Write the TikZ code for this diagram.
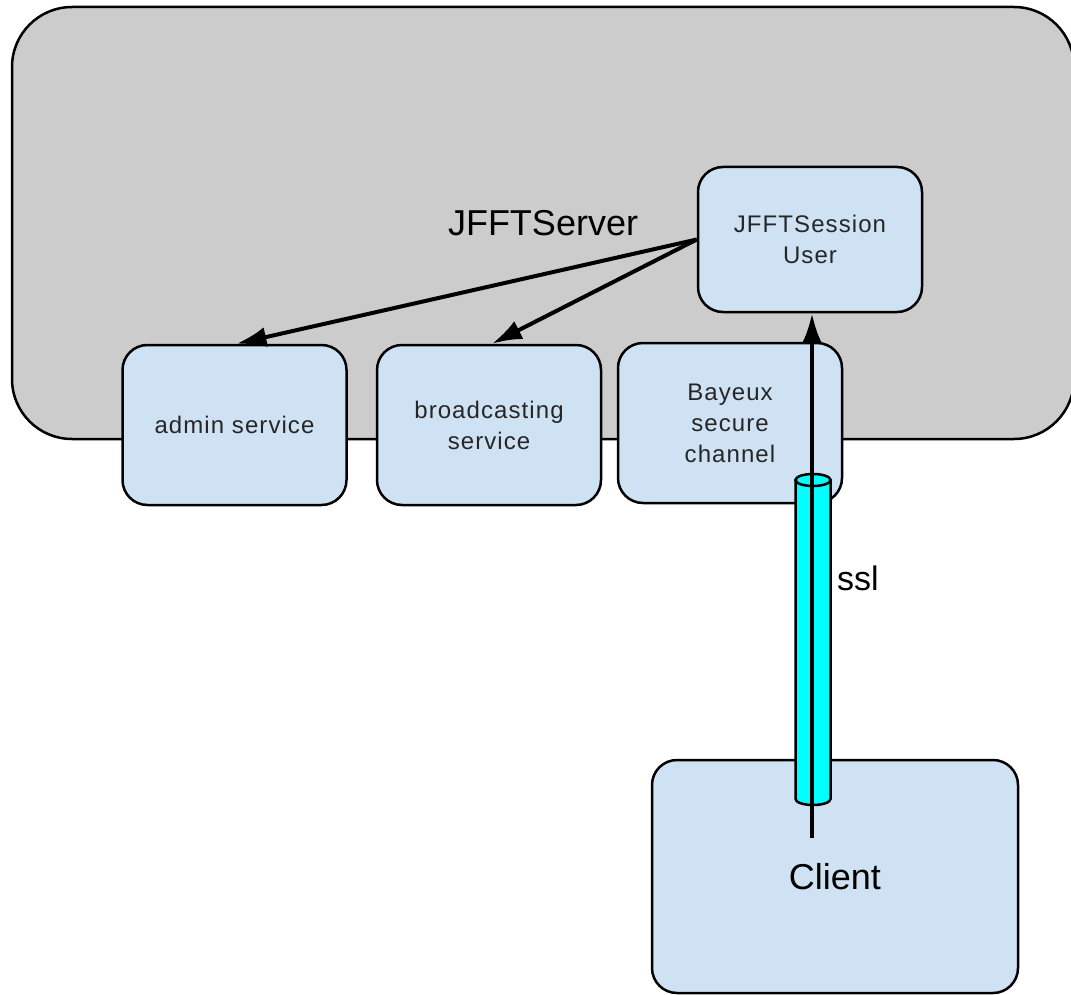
\documentclass[tikz,border=0pt]{standalone}
\usepackage{fontspec}
\setmainfont{Liberation Sans}
\usetikzlibrary{arrows.meta,calc}
\definecolor{serverfill}{HTML}{CCCCCC}
\definecolor{boxblue}{HTML}{CFE2F3}
\definecolor{pipecyan}{HTML}{00FFFF}
\definecolor{smalltext}{HTML}{262626}
\tikzset{
  server/.style={draw=black, line width=2.5pt, fill=serverfill, rounded corners=60pt,
    minimum width=1062pt, minimum height=432pt, inner sep=0pt,
    font=\fontsize{36}{40}\selectfont},
  svcbox/.style={draw=black, line width=2.5pt, fill=boxblue, rounded corners=25pt,
    minimum width=224pt, minimum height=160pt, inner sep=0pt, align=center,
    text=smalltext, font=\fontsize{24}{31}\selectfont\addfontfeature{LetterSpace=4.5}},
  bigbox/.style={svcbox, text=black, font=\fontsize{36}{40}\selectfont},
  connector/.style={draw=black, line width=4pt, -{Latex[length=30pt,width=20pt]}},
  pipe/.style={draw=black, line width=2.5pt, fill=pipecyan},
  pipelabel/.style={font=\fontsize{34}{40}\selectfont, inner sep=0pt}
}
\begin{document}
\begin{tikzpicture}[x=1pt, y=-1pt]
  \useasboundingbox (0,0) rectangle (1071,995);
  \begin{scope}
  \clip (0,0) rectangle (1071,995);
  % server container, running off the right edge
  \node[server] (server) at (543,223) {JFFTServer};
  \end{scope}

  % services attached to the server
  \node[svcbox] (admin)  at (234.5,425) {admin service};
  \node[svcbox] (bcast)  at (489,425)   {broadcasting\\service};
  \node[svcbox] (bayeux) at (730,423)   {Bayeux\\secure\\channel};

  % session inside the server
  \node[svcbox, minimum height=145pt] (sess) at (810,239.5) {JFFTSession\\User};

  % client
  \node[bigbox, minimum width=366pt, minimum height=233pt] (client) at (835,876.5) {Client};

  % session dispatches to services
  \draw[connector] (sess.west) -- ($(admin.north)+(2,0)$);
  \draw[connector] (sess.west) -- ($(bcast.north)+(3,0)$);

  % ssl pipe
  \coordinate (pipetop) at (813,480);
  \path[pipe] (795.5,480) -- (795.5,799)
     arc[start angle=180, end angle=360, x radius=17.5pt, y radius=6pt]
     -- (830.5,480) -- cycle;
  \path[pipe] (pipetop) ellipse [x radius=17.5pt, y radius=6pt];
  \node[pipelabel, anchor=west] (ssl) at (837,578) {ssl};

  % client connection up through the pipe
  \coordinate (ctail) at (812,838);
  \draw[connector] (ctail) -- (ctail |- sess.south);
\end{tikzpicture}
\end{document}
